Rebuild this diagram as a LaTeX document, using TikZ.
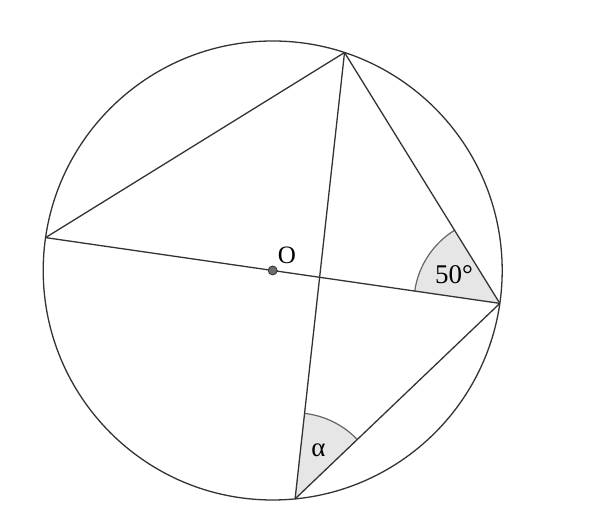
\documentclass[tikz,border=0pt]{standalone}
\usepackage{fontspec}
\setmainfont{Liberation Serif}
\usetikzlibrary{angles,calc}
\definecolor{ln}{HTML}{333333}
\definecolor{angfill}{HTML}{E6E6E6}
\tikzset{
  seg/.style={draw=ln, line width=1.3pt},
  angmark/.style={draw=ln!75, line width=1.2pt, fill=angfill, angle radius=86pt},
  lbl/.style={inner sep=0pt, text=black, font=\fontsize{27}{27}\selectfont}
}
\begin{document}
\begin{tikzpicture}[x=1pt,y=1pt]
\useasboundingbox (0,0) rectangle (600,524);
\coordinate (O) at (272.7,253.5);
\coordinate (A) at ($(O)+(71.76:229.5)$);
\coordinate (B) at ($(O)+(171.76:229.5)$);
\coordinate (C) at ($(O)+(-8.24:229.5)$);
\coordinate (D) at ($(O)+(-84.4:229.5)$);
\pic [angmark] {angle = A--C--B};
\pic [angmark] {angle = C--D--A};
\draw[seg] (O) circle (229.5);
\draw[seg] (B) -- (A);
\draw[seg] (A) -- (C);
\draw[seg] (A) -- (D);
\draw[seg] (B) -- (C);
\draw[seg] (C) -- (D);
\node[circle, fill=gray!85!black, draw=ln, line width=0.8pt, minimum size=9pt, inner sep=0pt] (Odot) at (O) {};
\node[lbl, font=\fontsize{25}{25}\selectfont] (Olbl) at (287,268.5) {O};
\node[lbl] (l50) at (454,249) {50°};
\node[lbl] (lal) at (318.5,73.5) {α};
\end{tikzpicture}
\end{document}
